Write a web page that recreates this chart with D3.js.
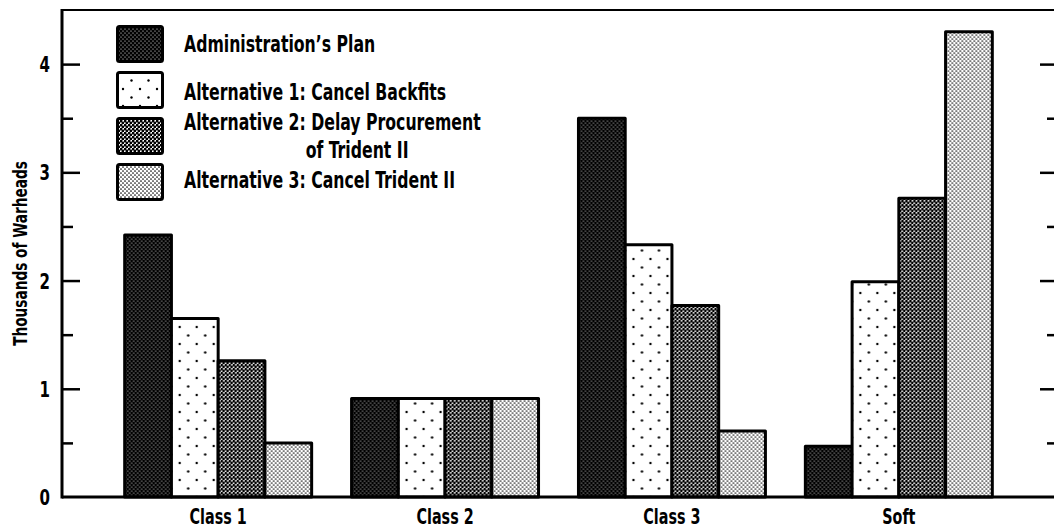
<!DOCTYPE html>
<html>
<head>
<meta charset="utf-8">
<script src="https://cdn.jsdelivr.net/npm/d3@7"></script>
<style>
  body { margin: 0; background: #fff; }
  svg { display: block; }
  text { font-family: "Liberation Sans Narrow", "DejaVu Sans Condensed", "DejaVu Sans", sans-serif; font-weight: bold; fill: #000; }
</style>
</head>
<body>
<svg id="chart" width="1054" height="530"></svg>
<script>
var categories = ["Class 1", "Class 2", "Class 3", "Soft"];
var seriesNames = [
    "Administration\u2019s Plan",
    "Alternative 1: Cancel Backfits",
    "Alternative 2: Delay Procurement|of Trident II",
    "Alternative 3: Cancel Trident II"
];
var adminPlan = [2.42, 0.91, 3.50, 0.47];
var alt1Values = [1.65, 0.91, 2.33, 1.99];
var alt2Values = [1.26, 0.91, 1.77, 2.76];
var alt3Values = [0.50, 0.91, 0.61, 4.30];
var majorTicks = [0, 1, 2, 3, 4];
var minorTicks = [0.5, 1.5, 2.5, 3.5];

d3.warheadChart = function (svgElement) {
    var svg = d3.select(svgElement);

    var allSeries = [adminPlan, alt1Values, alt2Values, alt3Values];
    var patternIds = ["pAdmin", "pAlt1", "pAlt2", "pAlt3"];
    var squeeze = 0.76;

    // halftone-ish fills
    var defs = svg.append("defs");

    var p0 = defs.append("pattern").attr("id", "pAdmin").attr("patternUnits", "userSpaceOnUse")
        .attr("width", 4).attr("height", 4);
    p0.append("rect").attr("width", 4).attr("height", 4).attr("fill", "#000");
    p0.append("circle").attr("cx", 1).attr("cy", 1).attr("r", 0.6).attr("fill", "#fff");
    p0.append("circle").attr("cx", 3).attr("cy", 3).attr("r", 0.6).attr("fill", "#fff");

    var p1 = defs.append("pattern").attr("id", "pAlt1").attr("patternUnits", "userSpaceOnUse")
        .attr("width", 17).attr("height", 17);
    p1.append("rect").attr("width", 17).attr("height", 17).attr("fill", "#fff");
    p1.append("circle").attr("cx", 4).attr("cy", 4).attr("r", 1.2).attr("fill", "#000");
    p1.append("circle").attr("cx", 12.5).attr("cy", 12.5).attr("r", 1.2).attr("fill", "#000");

    var p2 = defs.append("pattern").attr("id", "pAlt2").attr("patternUnits", "userSpaceOnUse")
        .attr("width", 4).attr("height", 4);
    p2.append("rect").attr("width", 4).attr("height", 4).attr("fill", "#fff");
    p2.append("circle").attr("cx", 1).attr("cy", 1).attr("r", 1.5).attr("fill", "#000");
    p2.append("circle").attr("cx", 3).attr("cy", 3).attr("r", 1.5).attr("fill", "#000");

    var p3 = defs.append("pattern").attr("id", "pAlt3").attr("patternUnits", "userSpaceOnUse")
        .attr("width", 4).attr("height", 4);
    p3.append("rect").attr("width", 4).attr("height", 4).attr("fill", "#fff");
    p3.append("circle").attr("cx", 1).attr("cy", 1).attr("r", 0.85).attr("fill", "#111");
    p3.append("circle").attr("cx", 3).attr("cy", 3).attr("r", 0.85).attr("fill", "#111");

    var plotLeft = 62, plotRight = 1054, plotTop = 10, plotBottom = 497;

    var x0 = d3.scaleBand()
        .domain(categories)
        .range([102, 1015])
        .paddingInner(0.176)
        .paddingOuter(0.1);

    var x1 = d3.scaleBand()
        .domain(d3.range(allSeries.length))
        .range([0, x0.bandwidth()]);

    var y = d3.scaleLinear()
        .domain([0, 4.5])
        .range([plotBottom, plotTop]);

    // condensed bold text, squeezed horizontally
    function label(parent, x, yPos, size, anchor, str) {
        return parent.append("text")
            .attr("transform", "translate(" + x + "," + yPos + ") scale(" + squeeze + ",1)")
            .attr("text-anchor", anchor)
            .style("font-size", size + "px")
            .text(str);
    }

    // bars
    var groups = svg.append("g")
        .selectAll("g")
        .data(categories)
        .enter().append("g")
        .attr("transform", function (d) {
            return "translate(" + x0(d) + ",0)";
        });

    groups.selectAll("rect")
        .data(function (d, i) {
            return allSeries.map(function (s, k) {
                return {k: k, value: s[i]};
            });
        })
        .enter().append("rect")
        .attr("x", function (d) { return x1(d.k); })
        .attr("y", function (d) { return y(d.value); })
        .attr("width", x1.bandwidth())
        .attr("height", function (d) { return y(0) - y(d.value); })
        .attr("fill", function (d) { return "url(#" + patternIds[d.k] + ")"; })
        .attr("stroke", "#000")
        .attr("stroke-width", 3)
        .attr("stroke-linejoin", "round");

    // ticks pointing inward on both sides
    function tickAxis(axis, xPos) {
        svg.append("g").attr("transform", "translate(" + xPos + ",0)").call(axis)
            .call(function (g) { g.select(".domain").remove(); })
            .selectAll("line").attr("stroke", "#000").attr("stroke-width", 2.5);
    }
    tickAxis(d3.axisRight(y).tickValues(majorTicks.slice(1)).tickSize(18).tickFormat(""), plotLeft);
    tickAxis(d3.axisRight(y).tickValues(minorTicks).tickSize(11).tickFormat(""), plotLeft);
    tickAxis(d3.axisLeft(y).tickValues(majorTicks.slice(1)).tickSize(14).tickFormat(""), plotRight);
    tickAxis(d3.axisLeft(y).tickValues(minorTicks).tickSize(7).tickFormat(""), plotRight);

    var tickLabels = svg.append("g");
    majorTicks.forEach(function (d) {
        label(tickLabels, 50, y(d) + 8, 22, "end", d);
    });

    // frame
    svg.append("line").attr("x1", plotLeft).attr("x2", plotRight).attr("y1", plotTop).attr("y2", plotTop)
        .attr("stroke", "#000").attr("stroke-width", 2);
    svg.append("line").attr("x1", plotLeft).attr("x2", plotLeft).attr("y1", plotTop - 1).attr("y2", plotBottom + 1.5)
        .attr("stroke", "#000").attr("stroke-width", 3);
    svg.append("line").attr("x1", plotLeft).attr("x2", plotRight).attr("y1", plotBottom).attr("y2", plotBottom)
        .attr("stroke", "#000").attr("stroke-width", 3);

    // category labels
    var catLabels = svg.append("g");
    categories.forEach(function (d) {
        label(catLabels, x0(d) + x0.bandwidth() / 2, 524, 21, "middle", d);
    });

    // y title
    svg.append("text")
        .attr("transform", "translate(27," + ((plotTop + plotBottom) / 2) + ") rotate(-90) scale(" + squeeze + ",1)")
        .attr("text-anchor", "middle")
        .style("font-size", "20px")
        .text("Thousands of Warheads");

    // legend
    var legendRowY = [25, 71, 117, 163];
    var legendBaseline = [52, 100, 130, 188];

    var legend = svg.append("g");
    legend.selectAll("rect")
        .data(patternIds)
        .enter().append("rect")
        .attr("x", 117.5)
        .attr("y", function (d, i) { return legendRowY[i] + 1.5; })
        .attr("width", 45)
        .attr("height", 35)
        .attr("rx", 2)
        .attr("fill", function (d) { return "url(#" + d + ")"; })
        .attr("stroke", "#000")
        .attr("stroke-width", 3);

    seriesNames.forEach(function (name, i) {
        var parts = name.split("|");
        label(legend, 184, legendBaseline[i], 23, "start", parts[0]);
        if (parts.length > 1) {
            // second line lines up with the text after the colon
            var prefix = label(legend, 0, 0, 23, "start", "Alternative 2: ").attr("visibility", "hidden");
            var w = prefix.node().getComputedTextLength() * squeeze;
            prefix.remove();
            label(legend, 184 + w, legendBaseline[i] + 28, 23, "start", parts[1]);
        }
    });
};

d3.warheadChart("#chart");
</script>
</body>
</html>
